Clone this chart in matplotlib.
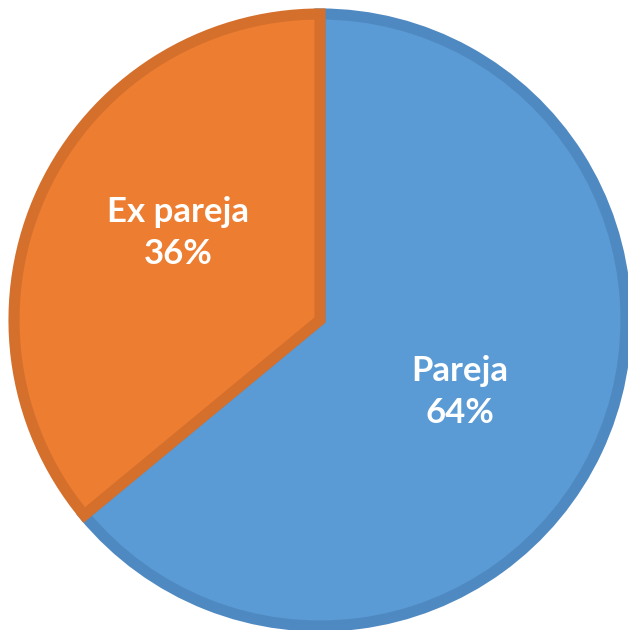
import numpy as np
import matplotlib.pyplot as plt

labels = ["Pareja", "Ex pareja"]
values = [64, 36]
colors = ["#5B9BD5", "#ED7D31"]
edges = ["#4F89C1", "#D5702C"]

fig = plt.figure(figsize=(6.28, 6.30), dpi=100)
ax = fig.add_axes([0, 0, 1, 1])
ax.set_xlim(0, 628)
ax.set_ylim(0, 630)
ax.set_aspect("equal")

cx, cy, r = 320, 630 - 320, 306
wedges, _ = ax.pie(values, colors=colors, startangle=90, counterclock=False,
                   center=(cx, cy), radius=r, frame=True)
ax.axis("off")

# darker border drawn inside each wedge
for w, ec in zip(wedges, edges):
    w.set_edgecolor(ec)
    w.set_linewidth(8)
    w.set_clip_path(w.get_path(), w.get_transform())

# labels placed near the middle of each wedge
dists = [0.515, 0.545]
nudge = [-2, -6.3]
for w, l, v, d, n in zip(wedges, labels, values, dists, nudge):
    mid = np.deg2rad((w.theta1 + w.theta2) / 2 + n)
    ax.text(cx + d * r * np.cos(mid), cy + d * r * np.sin(mid), f"{l}\n{v}%",
            color="white", fontsize=25, fontweight="bold", family="Lato",
            ha="center", va="center", linespacing=1.4)

fig.savefig("out.png", dpi=100)
